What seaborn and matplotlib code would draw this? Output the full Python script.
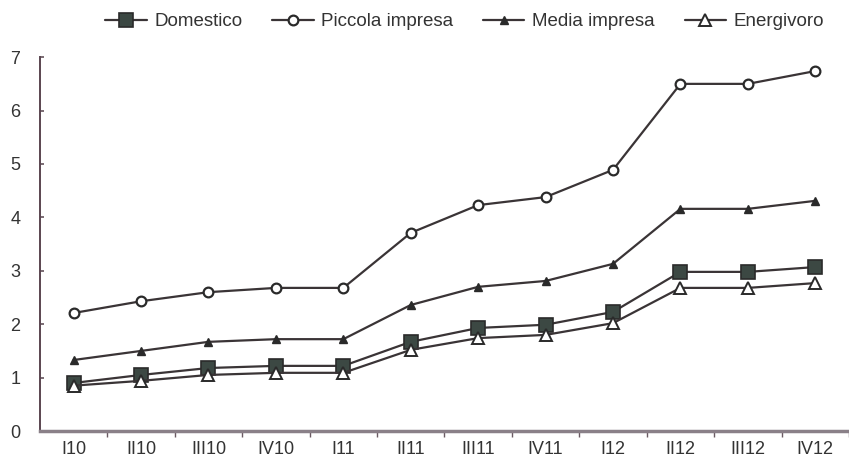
import numpy as np
import pandas as pd
import matplotlib
matplotlib.use("Agg")
import matplotlib.pyplot as plt
import seaborn as sns
from matplotlib import font_manager as fm

quarters = ["I10", "II10", "III10", "IV10", "I11", "II11", "III11", "IV11", "I12", "II12", "III12", "IV12"]
domestico = [0.90, 1.05, 1.18, 1.22, 1.22, 1.67, 1.93, 1.99, 2.23, 2.98, 2.98, 3.07]
piccola = [2.21, 2.43, 2.60, 2.68, 2.68, 3.71, 4.23, 4.38, 4.89, 6.50, 6.50, 6.74]
media = [1.33, 1.50, 1.67, 1.72, 1.72, 2.36, 2.70, 2.81, 3.13, 4.16, 4.16, 4.31]
energivoro = [0.85, 0.94, 1.05, 1.09, 1.09, 1.52, 1.74, 1.80, 2.02, 2.68, 2.68, 2.77]
series_names = ["Domestico", "Piccola impresa", "Media impresa", "Energivoro"]
yticks = [0, 1, 2, 3, 4, 5, 6, 7]

sns.set_theme(style="white")
avail = {f.name for f in fm.fontManager.ttflist}
fam = "Liberation Sans Narrow" if "Liberation Sans Narrow" in avail else "Liberation Sans"
plt.rcParams["font.family"] = [fam, "DejaVu Sans"]

line_c = "#3a3436"
styles = {
    "Domestico": dict(marker="s", markersize=10, markerfacecolor="#3c4843", markeredgecolor="#2a2a2a", markeredgewidth=1.2),
    "Piccola impresa": dict(marker="o", markersize=7, markerfacecolor="white", markeredgecolor="#2a2a2a", markeredgewidth=1.6),
    "Media impresa": dict(marker="^", markersize=6, markerfacecolor="#2a2a2a", markeredgecolor="#2a2a2a", markeredgewidth=1),
    "Energivoro": dict(marker="^", markersize=9, markerfacecolor="white", markeredgecolor="#2a2a2a", markeredgewidth=1.4),
}

fig = plt.figure(figsize=(8.49, 4.61), dpi=100)
ax = fig.add_axes([0.047, 0.065, 0.953, 0.811])

x = np.arange(len(quarters))
for name, vals in zip(series_names, [domestico, piccola, media, energivoro]):
    df = pd.DataFrame({"q": x, "v": vals})
    sns.lineplot(data=df, x="q", y="v", ax=ax, color=line_c, linewidth=1.6,
                 label=name, **styles[name])

ax.set_xlim(-0.5, 11.4)
ax.set_ylim(0, 7)
ax.set_yticks(yticks)
ax.set_yticklabels([str(t) for t in yticks], fontsize=13, color="#333333")
ax.set_xticks(x)
ax.set_xticklabels(quarters, fontsize=13, color="#333333")
ax.set_xticks(np.arange(len(quarters)) + 0.5, minor=True)
ax.tick_params(axis="x", which="major", length=0, pad=7)
ax.tick_params(axis="x", which="minor", length=4, direction="out", color="#6a5a62", bottom=True)
ax.tick_params(axis="y", which="major", length=3, direction="in", color="#6a5a62", left=True, pad=14)
ax.set_xlabel("")
ax.set_ylabel("")
for s in ["top", "right"]:
    ax.spines[s].set_visible(False)
ax.spines["left"].set_color("#5a4550")
ax.spines["left"].set_linewidth(1.4)
ax.spines["bottom"].set_color("#8a8088")
ax.spines["bottom"].set_linewidth(2.5)
ax.grid(False)

leg = ax.legend(loc="center", bbox_to_anchor=(0.525, 1.095), ncol=4, frameon=False,
                fontsize=13.5, handlelength=2.2, handletextpad=0.4, columnspacing=1.6,
                borderaxespad=0)
for t in leg.get_texts():
    t.set_color("#333333")

fig.savefig("out.png", dpi=100, facecolor="white")
